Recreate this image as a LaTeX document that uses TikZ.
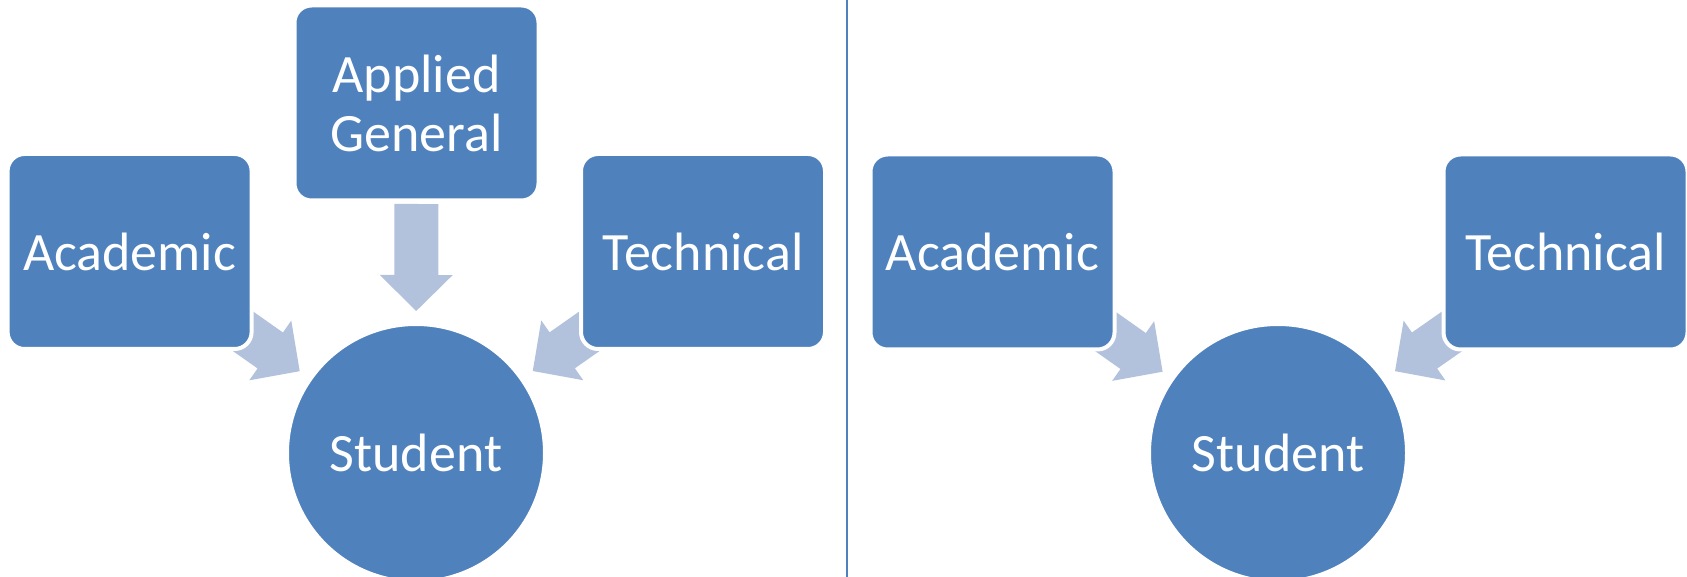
\documentclass[tikz,border=0pt]{standalone}
\usepackage{fontspec}
\setmainfont{Carlito}
\usepackage{xcolor}
\usetikzlibrary{calc,backgrounds}

\definecolor{boxblue}{HTML}{4F81BD}
\definecolor{arrowblue}{HTML}{B2C1DC}

% block arrow from one node towards another
\newcommand{\flowarrow}[2]{%
\coordinate (fa0) at ($(#1)!50.5pt!(#2)$);
\coordinate (fa1) at ($(#1)!86pt!(#2)$);
\coordinate (fa2) at ($(#1)!104pt!(#2)$);
\fill[flow_arrow] ($(fa0)!11pt!90:(fa2)$) -- ($(fa1)!11pt!90:(fa2)$) -- ($(fa1)!18.25pt!90:(fa2)$) -- (fa2) -- ($(fa1)!18.25pt!-90:(fa2)$) -- ($(fa1)!11pt!-90:(fa2)$) -- ($(fa0)!11pt!-90:(fa2)$) -- cycle;
}

\begin{document}
\begin{tikzpicture}[x=0.5pt,y=-0.5pt,
box_node/.style={rectangle,rounded corners=8.5pt,fill=boxblue,draw=white,line width=2pt,minimum width=122pt,minimum height=97.5pt,inner sep=0pt,text=white,align=center,font=\fontsize{27}{29.5}\selectfont},
hub_node/.style={circle,fill=boxblue,draw=white,line width=2pt,minimum size=129pt,inner sep=0pt,text=white,font=\fontsize{27}{29.5}\selectfont},
flow_arrow/.style={fill=arrowblue}]

\useasboundingbox (0,0) rectangle (1687,577);

\node[box_node] (aca_l) at (129.6,251.5) {Academic};
\node[box_node] (app_l) at (416.5,103) {Applied\\General};
\node[box_node] (tec_l) at (703,251.5) {Technical};
\node[hub_node] (stu_l) at (416,453) {Student};

\node[box_node] (aca_r) at (992.5,252) {Academic};
\node[box_node] (tec_r) at (1565.5,252) {Technical};
\node[hub_node] (stu_r) at (1278,453) {Student};

\begin{scope}[on background layer]
\flowarrow{aca_l.center}{stu_l.center}
\flowarrow{app_l.center}{stu_l.center}
\flowarrow{tec_l.center}{stu_l.center}
\flowarrow{aca_r.center}{stu_r.center}
\flowarrow{tec_r.center}{stu_r.center}
\end{scope}

\draw[boxblue,line width=1pt] (847,0) -- (847,577);

\end{tikzpicture}
\end{document}
